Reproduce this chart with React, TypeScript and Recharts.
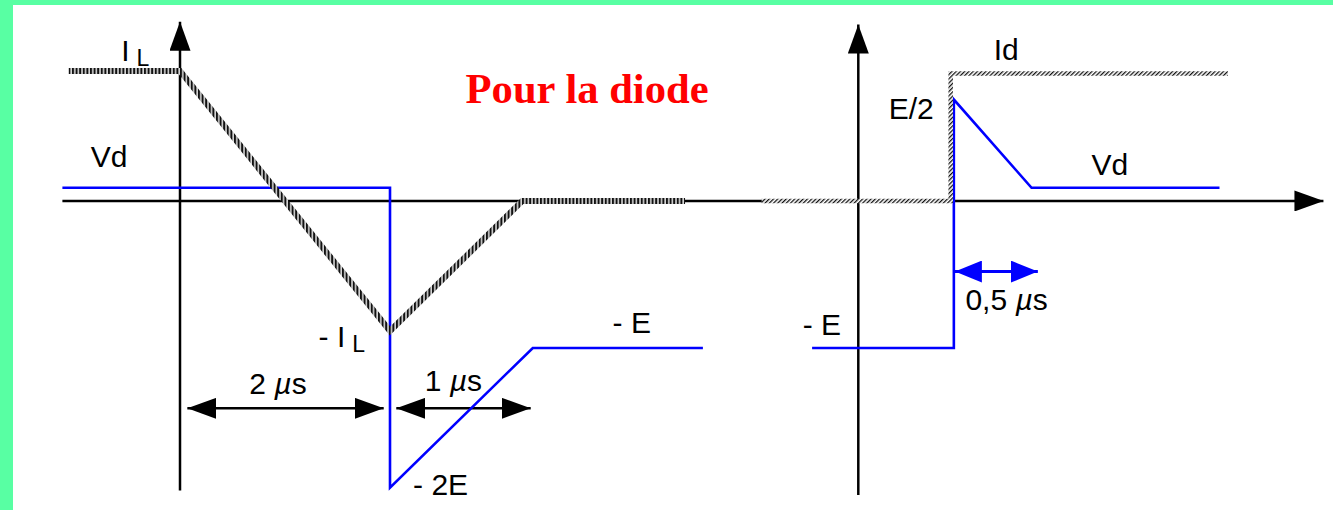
import React from 'react';
import { ComposedChart, Line, Scatter, XAxis, YAxis } from 'recharts';

const W = 1333;
const H = 510;

// time in µs (left origin = turn-off start), Vd in units of E, Id in units of IL
const vdOffT = [-1.12, 2.0, 2.0, 3.36, 4.98];
const vdOffV = [0.09, 0.09, -1.95, -1.0, -1.0];
const vdOnT = [6.02, 7.37, 7.37, 8.11, 9.9];
const vdOnV = [-1, -1, 0.69, 0.09, 0.09];
const idOffT = [-1.06, 0, 2.0, 3.26, 4.81];
const idOffI = [1, 1, -1, 0, 0];
const idOnT = [5.54, 7.34, 7.34, 9.98];
const idOnI = [0, 0, 0.98, 0.98];

// axes of the sketch
const timeAxisT = [-1.12, 10.89];
const timeAxisV = [0, 0];
const leftAxisT = [0, 0];
const leftAxisV = [-1.97, 1.22];
const rightAxisT = [6.46, 6.46];
const rightAxisV = [-2.0, 1.2];

// duration markers
const span2T = [0.07, 1.94];
const span1T = [2.06, 3.34];
const spanLevel = [-1.41, -1.41];
const span05T = [7.38, 8.17];
const span05Level = [-0.48, -0.48];

// labels
const labelText = ['I', 'Vd', '- I', '2 µs', '1 µs', '- 2E', '- E', '- E', '0,5 µs', 'E/2', 'Id', 'Vd'];
const labelSub = ['L', '', 'L', '', '', '', '', '', '', '', '', ''];
const labelT = [-0.56, -0.85, 1.32, 0.66, 2.33, 2.22, 4.12, 5.93, 7.48, 6.75, 7.75, 8.68];
const labelV = [0.95, 0.23, -0.99, -1.31, -1.29, -2.0, -0.9, -0.91, -0.74, 0.56, 0.96, 0.18];
const titleText = ['Pour la diode'];
const titleT = [2.72];
const titleV = [0.67];

const T_DOMAIN: [number, number] = [-1.7143, 10.981];
const V_DOMAIN: [number, number] = [-2.102, 1.3673];
const I_DOMAIN: [number, number] = [-2.377, 1.546];

const zip = (ts: number[], vs: number[]) => ts.map((t, k) => ({ t, v: vs[k] }));

const labels = labelText.map((text, k) => ({ t: labelT[k], v: labelV[k], text, sub: labelSub[k] }));
const titles = titleText.map((text, k) => ({ t: titleT[k], v: titleV[k], text }));

const SANS = '"Liberation Sans", Arial, Helvetica, sans-serif';

const renderMu = (text: string) => {
  const parts = text.split('µ');
  const out: React.ReactNode[] = [];
  parts.forEach((p, k) => {
    if (k > 0) out.push(<tspan key={'m' + k} fontStyle="italic">µ</tspan>);
    if (p) out.push(<tspan key={'p' + k}>{p}</tspan>);
  });
  return out;
};

const LabelShape = (props: any) => {
  const { cx, cy, payload } = props;
  return (
    <text x={cx} y={cy} fontFamily={SANS} fontSize={30} fill="#000" textAnchor="start">
      {renderMu(payload.text)}
      {payload.sub ? (
        <tspan dx={7} dy={5} fontSize={23}>{payload.sub}</tspan>
      ) : null}
    </text>
  );
};

const TitleShape = (props: any) => {
  const { cx, cy, payload } = props;
  return (
    <text x={cx} y={cy} fontFamily='"Liberation Serif", "Times New Roman", serif' fontWeight="bold" fontSize={42.6} fill="#ff0000">
      {payload.text}
    </text>
  );
};

export default function App() {
  const common = { type: 'linear' as const, dot: false, activeDot: false, isAnimationActive: false, dataKey: 'v' };
  return (
    <div style={{ position: 'fixed', left: 0, top: 0, width: W, height: H, background: '#58ffa3', overflow: 'hidden' }}>
      <div style={{ position: 'absolute', left: 13, top: 5, width: W - 13, height: H - 5, background: '#ffffff' }} />
      <div style={{ position: 'absolute', left: 0, top: 0 }}>
        <ComposedChart width={W} height={H} margin={{ top: 0, right: 0, bottom: 0, left: 0 }}>
          <defs>
            <pattern id="hatchV" patternUnits="userSpaceOnUse" width={3.6} height={4}>
              <rect x={0} y={0} width={3.6} height={4} fill="#d6d6d6" />
              <rect x={0} y={0} width={2} height={4} fill="#111111" />
            </pattern>
            <pattern id="hatchD" patternUnits="userSpaceOnUse" width={3} height={3} patternTransform="rotate(45)">
              <rect x={0} y={0} width={3} height={3} fill="#ffffff" />
              <rect x={0} y={0} width={1.3} height={3} fill="#111111" />
            </pattern>
            <marker id="arrowK" viewBox="0 0 29 21" refX={29} refY={10.5} markerWidth={29} markerHeight={21}
              markerUnits="userSpaceOnUse" orient="auto-start-reverse">
              <path d="M0,0 L29,10.5 L0,21 Z" fill="#000" />
            </marker>
            <marker id="arrowB" viewBox="0 0 27 22" refX={27} refY={11} markerWidth={27} markerHeight={22}
              markerUnits="userSpaceOnUse" orient="auto-start-reverse">
              <path d="M0,0 L27,11 L0,22 Z" fill="#0000ff" />
            </marker>
          </defs>
          <XAxis type="number" dataKey="t" domain={T_DOMAIN} allowDataOverflow hide />
          <YAxis yAxisId="v" type="number" domain={V_DOMAIN} allowDataOverflow hide />
          <YAxis yAxisId="i" type="number" domain={I_DOMAIN} allowDataOverflow hide />

          {/* axes */}
          <Line {...common} yAxisId="v" data={zip(timeAxisT, timeAxisV)} stroke="#000" strokeWidth={2.5} markerEnd="url(#arrowK)" />
          <Line {...common} yAxisId="v" data={zip(leftAxisT, leftAxisV)} stroke="#000" strokeWidth={2.5} markerEnd="url(#arrowK)" />
          <Line {...common} yAxisId="v" data={zip(rightAxisT, rightAxisV)} stroke="#000" strokeWidth={2.5} markerEnd="url(#arrowK)" />

          {/* duration markers */}
          <Line {...common} yAxisId="v" data={zip(span2T, spanLevel)} stroke="#000" strokeWidth={2.5} markerStart="url(#arrowK)" markerEnd="url(#arrowK)" />
          <Line {...common} yAxisId="v" data={zip(span1T, spanLevel)} stroke="#000" strokeWidth={2.5} markerStart="url(#arrowK)" markerEnd="url(#arrowK)" />
          <Line {...common} yAxisId="v" data={zip(span05T, span05Level)} stroke="#0000ff" strokeWidth={3} markerStart="url(#arrowB)" markerEnd="url(#arrowB)" />

          {/* Vd */}
          <Line {...common} yAxisId="v" data={zip(vdOffT, vdOffV)} stroke="#0000ff" strokeWidth={2.6} strokeLinejoin="miter" />
          <Line {...common} yAxisId="v" data={zip(vdOnT, vdOnV)} stroke="#0000ff" strokeWidth={2.6} strokeLinejoin="miter" />

          {/* Id */}
          <Line {...common} yAxisId="i" data={zip(idOffT, idOffI)} stroke="url(#hatchV)" strokeWidth={6} strokeLinejoin="miter" />
          <Line {...common} yAxisId="i" data={zip(idOnT, idOnI)} stroke="url(#hatchD)" strokeWidth={4.5} strokeLinejoin="miter" />

          <Scatter yAxisId="v" data={labels} dataKey="v" shape={LabelShape} isAnimationActive={false} />
          <Scatter yAxisId="v" data={titles} dataKey="v" shape={TitleShape} isAnimationActive={false} />
        </ComposedChart>
      </div>
    </div>
  );
}
